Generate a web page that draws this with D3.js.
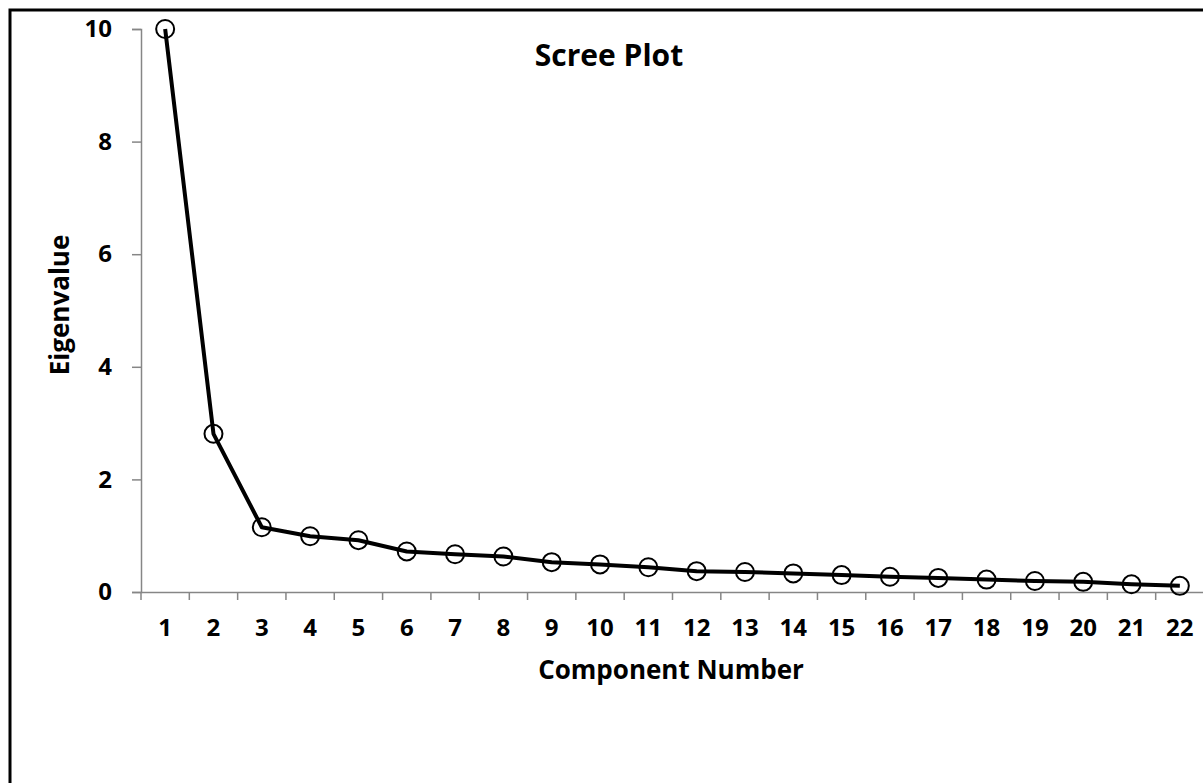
<!DOCTYPE html>
<html>
<head>
<meta charset="utf-8">
<script src="https://cdn.jsdelivr.net/npm/d3@7"></script>
<style>
html, body { margin: 0; padding: 0; background: #fff; }
svg { display: block; }
text { font-family: "Open Sans", "Noto Sans", sans-serif; font-weight: bold; fill: #000; }
</style>
</head>
<body>
<svg id="chart" width="1203" height="783"></svg>
<script>
const components = ["1","2","3","4","5","6","7","8","9","10","11","12","13","14","15","16","17","18","19","20","21","22"];
const eigenvalues = [10.0, 2.81, 1.15, 0.99, 0.92, 0.72, 0.67, 0.63, 0.53, 0.49, 0.44, 0.37, 0.355, 0.33, 0.30, 0.27, 0.25, 0.22, 0.195, 0.18, 0.137, 0.11];
const yTicks = [0, 2, 4, 6, 8, 10];
const chartTitle = "Scree Plot";
const xTitle = "Component Number";
const yTitle = "Eigenvalue";

const data = components.map((c, i) => ({ c, v: eigenvalues[i] }));

const svg = d3.select("#chart");
const W = 1203, H = 783;
const plot = { left: 141, right: 1204, top: 29, bottom: 592 };

// outer border (right & bottom fall outside the view)
svg.append("rect")
  .attr("x", 10).attr("y", 10)
  .attr("width", W + 20).attr("height", H + 20)
  .attr("fill", "#fff").attr("stroke", "#000").attr("stroke-width", 3);

const x = d3.scaleBand().domain(components).range([plot.left, plot.right]).paddingInner(0).paddingOuter(0);
const y = d3.scaleLinear().domain([0, 10]).range([plot.bottom, plot.top]);

// Y axis
const yAxis = d3.axisLeft(y).tickValues(yTicks).tickSize(9).tickPadding(20).tickFormat(d3.format("d"));
const gy = svg.append("g").attr("transform", `translate(${plot.left},0)`).call(yAxis);
gy.attr("font-family", null).attr("font-size", null);
gy.select(".domain").attr("stroke", "#868686").attr("stroke-width", 1.5);
gy.selectAll(".tick line").attr("stroke", "#868686").attr("stroke-width", 1.5);
gy.selectAll(".tick text").style("font-size", "24px").attr("fill", "#000");

// X axis: category axis with tick marks between categories
const xAxis = d3.axisBottom(x).tickSize(0).tickPadding(27);
const gx = svg.append("g").attr("transform", `translate(0,${plot.bottom})`).call(xAxis);
gx.attr("font-family", null).attr("font-size", null);
gx.select(".domain").attr("stroke", "#868686").attr("stroke-width", 1.5);
gx.selectAll(".tick text").style("font-size", "24px").attr("fill", "#000");
const boundaries = components.map(c => x(c));
gx.selectAll(".bound").data(boundaries).enter().append("line")
  .attr("class", "bound")
  .attr("x1", d => d).attr("x2", d => d)
  .attr("y1", 0).attr("y2", 8)
  .attr("stroke", "#868686").attr("stroke-width", 1.5);

// line
const cx = d => x(d.c) + x.bandwidth() / 2;
svg.append("path").datum(data)
  .attr("fill", "none").attr("stroke", "#000").attr("stroke-width", 4)
  .attr("stroke-linejoin", "round")
  .attr("d", d3.line().x(cx).y(d => y(d.v)));

// markers
svg.selectAll(".mk").data(data).enter().append("circle")
  .attr("class", "mk")
  .attr("cx", cx).attr("cy", d => y(d.v)).attr("r", 9)
  .attr("fill", "none").attr("stroke", "#000").attr("stroke-width", 2);

// titles
svg.append("text").attr("x", 609).attr("y", 66).attr("text-anchor", "middle")
  .style("font-size", "30px").text(chartTitle);
svg.append("text").attr("x", 671).attr("y", 679).attr("text-anchor", "middle")
  .style("font-size", "26px").text(xTitle);
svg.append("text").attr("transform", "translate(69,305) rotate(-90)").attr("text-anchor", "middle")
  .style("font-size", "26px").text(yTitle);
</script>
</body>
</html>
